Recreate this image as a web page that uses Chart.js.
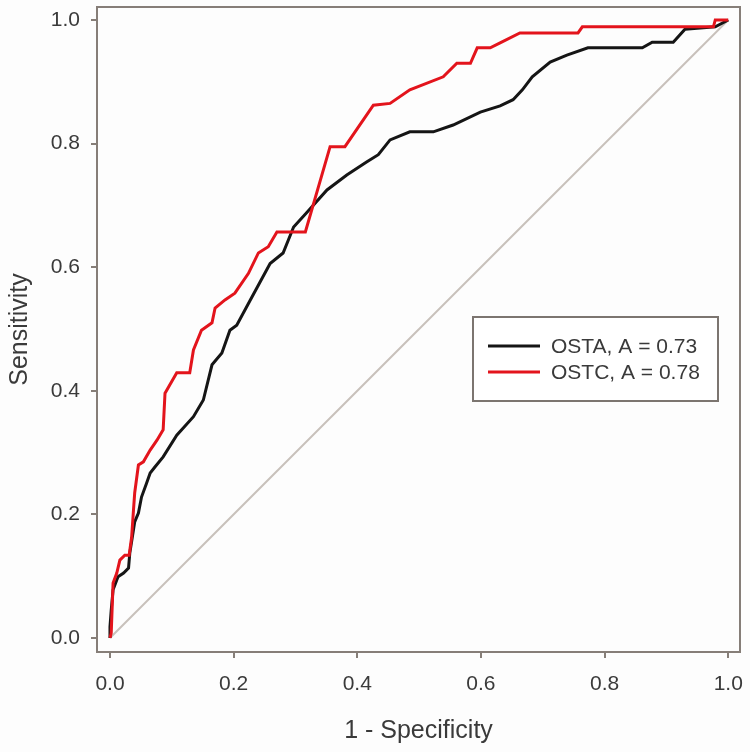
<!DOCTYPE html>
<html>
<head>
<meta charset="utf-8">
<script src="https://cdn.jsdelivr.net/npm/chart.js@4/dist/chart.umd.min.js"></script>
<style>
    html, body { margin: 0; padding: 0; background: #fdfdfd; }
    #wrap { width: 750px; height: 752px; }
</style>
</head>
<body>
<div id="wrap"><canvas id="roc" width="750" height="752"></canvas></div>
<script>
// ROC curves: 1 - specificity (x) vs sensitivity (y)
const ostaX = [0, 0, 0.002, 0.005, 0.013, 0.022, 0.03, 0.032, 0.038, 0.04, 0.046, 0.051, 0.059, 0.065, 0.073, 0.086,
    0.108, 0.135, 0.151, 0.165, 0.181, 0.194, 0.205, 0.227, 0.259, 0.28, 0.297, 0.318, 0.351, 0.383, 0.415, 0.434,
    0.453, 0.485, 0.523, 0.555, 0.599, 0.631, 0.652, 0.667, 0.683, 0.712, 0.739, 0.773, 0.861, 0.877, 0.911, 0.93, 0.979, 1];
const ostaY = [0, 0.018, 0.045, 0.078, 0.099, 0.105, 0.113, 0.137, 0.175, 0.188, 0.202, 0.228, 0.25, 0.267, 0.277, 0.293,
    0.328, 0.358, 0.385, 0.442, 0.461, 0.498, 0.506, 0.547, 0.606, 0.623, 0.665, 0.688, 0.725, 0.749, 0.770, 0.782,
    0.806, 0.819, 0.819, 0.830, 0.851, 0.861, 0.871, 0.887, 0.908, 0.932, 0.943, 0.955, 0.955, 0.964, 0.964, 0.985, 0.989, 1];

const ostcX = [0, 0.002, 0.005, 0.011, 0.016, 0.024, 0.031, 0.035, 0.038, 0.040, 0.046, 0.054, 0.065, 0.076, 0.086, 0.089,
    0.108, 0.129, 0.135, 0.148, 0.165, 0.17, 0.186, 0.202, 0.224, 0.24, 0.256, 0.27, 0.316, 0.356, 0.38, 0.426, 0.453,
    0.485, 0.539, 0.561, 0.583, 0.594, 0.615, 0.631, 0.663, 0.757, 0.764, 0.976, 0.979, 0.995, 1];
const ostcY = [0, 0.008, 0.089, 0.105, 0.126, 0.134, 0.134, 0.163, 0.207, 0.235, 0.28, 0.285, 0.304, 0.32, 0.337, 0.396,
    0.429, 0.429, 0.466, 0.498, 0.51, 0.534, 0.547, 0.558, 0.59, 0.623, 0.633, 0.657, 0.657, 0.795, 0.795, 0.862, 0.865,
    0.887, 0.908, 0.93, 0.93, 0.955, 0.955, 0.963, 0.979, 0.979, 0.989, 0.989, 1.0, 1.0, 1];

const refX = [0, 1];
const refY = [0, 1];

const tickValues = [0, 0.2, 0.4, 0.6, 0.8, 1.0];
const legendLabels = ['OSTA, A = 0.73', 'OSTC, A = 0.78'];

const frameColor = '#867e78';
const textColor = '#3a3a3a';
const fontFamily = '"Liberation Sans", Arial, sans-serif';

function toPoints(xs, ys) {
    return xs.map((x, i) => ({ x: x, y: ys[i] }));
}

// box round the plot + the legend drawn inside it
const framePlugin = {
    id: 'frame',
    afterDatasetsDraw(chart) {
        const ctx = chart.ctx;
        const a = chart.chartArea;
        ctx.save();
        ctx.strokeStyle = frameColor;
        ctx.lineWidth = 2;
        ctx.strokeRect(a.left, a.top, a.right - a.left, a.bottom - a.top);

        // legend box
        const bx = 473, by = 317, bw = 245, bh = 84;
        ctx.fillStyle = '#ffffff';
        ctx.fillRect(bx, by, bw, bh);
        ctx.strokeStyle = '#7c7570';
        ctx.strokeRect(bx, by, bw, bh);
        const colors = ['#151515', '#e3141c'];
        ctx.font = '21px ' + fontFamily;
        ctx.textBaseline = 'middle';
        legendLabels.forEach((label, i) => {
            const ly = 346 + i * 26;
            ctx.strokeStyle = colors[i];
            ctx.lineWidth = 3;
            ctx.beginPath();
            ctx.moveTo(488, ly);
            ctx.lineTo(540, ly);
            ctx.stroke();
            ctx.fillStyle = textColor;
            ctx.fillText(label, 551, ly + 1);
        });
        ctx.restore();
    }
};

function noEdgePadding(s) {
    s.paddingTop = 0;
    s.paddingBottom = 0;
    s.paddingLeft = 0;
    s.paddingRight = 0;
}

const ctx = document.getElementById('roc').getContext('2d');
new Chart(ctx, {
    type: 'scatter',
    data: {
        datasets: [
            {
                label: 'OSTC',
                data: toPoints(ostcX, ostcY),
                showLine: true,
                borderColor: '#e3141c',
                borderWidth: 3,
                pointRadius: 0,
                tension: 0
            },
            {
                label: 'OSTA',
                data: toPoints(ostaX, ostaY),
                showLine: true,
                borderColor: '#151515',
                borderWidth: 3,
                pointRadius: 0,
                tension: 0
            },
            {
                label: 'ref',
                data: toPoints(refX, refY),
                showLine: true,
                borderColor: '#c8c1bb',
                borderWidth: 2,
                pointRadius: 0
            }
        ]
    },
    options: {
        responsive: false,
        animation: false,
        layout: { padding: { top: 7, right: 10, left: 0, bottom: 0 } },
        plugins: {
            legend: { display: false },
            tooltip: { enabled: false }
        },
        scales: {
            x: {
                type: 'linear',
                min: -0.021,
                max: 1.019,
                afterFit: (s) => { s.height = 100; noEdgePadding(s); },
                afterBuildTicks: (s) => { s.ticks = tickValues.map(v => ({ value: v })); },
                border: { display: false },
                grid: { drawOnChartArea: false, drawTicks: true, tickLength: 6, color: frameColor, lineWidth: 2 },
                ticks: {
                    padding: 14,
                    color: textColor,
                    font: { family: fontFamily, size: 21 },
                    callback: (v) => v.toFixed(1),
                    maxRotation: 0
                },
                title: {
                    display: true,
                    text: '1 - Specificity',
                    color: textColor,
                    font: { family: fontFamily, size: 25 },
                    padding: { top: 0, bottom: 6 }
                }
            },
            y: {
                type: 'linear',
                min: -0.0227,
                max: 1.021,
                afterFit: (s) => { s.width = 97; noEdgePadding(s); },
                afterBuildTicks: (s) => { s.ticks = tickValues.map(v => ({ value: v })); },
                border: { display: false },
                grid: { drawOnChartArea: false, drawTicks: true, tickLength: 6, color: frameColor, lineWidth: 2 },
                ticks: {
                    padding: 11,
                    color: textColor,
                    font: { family: fontFamily, size: 21 },
                    callback: (v) => v.toFixed(1)
                },
                title: {
                    display: true,
                    text: 'Sensitivity',
                    color: textColor,
                    font: { family: fontFamily, size: 25 },
                    padding: { top: 5, bottom: 0 }
                }
            }
        }
    },
    plugins: [framePlugin]
});
</script>
</body>
</html>
